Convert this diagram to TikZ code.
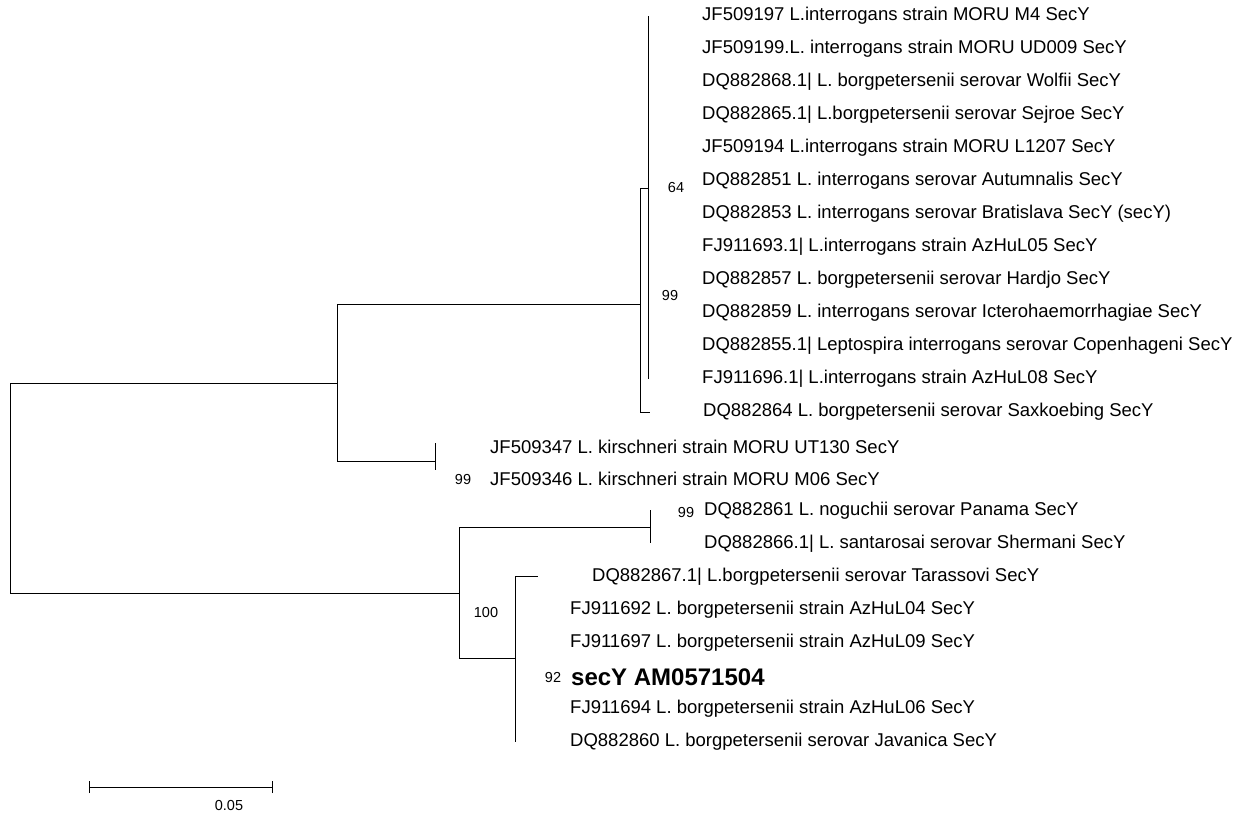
\documentclass[tikz,border=0pt]{standalone}
\usepackage{fontspec}
\setmainfont{Liberation Sans}
\usetikzlibrary{positioning}

\begin{document}
\begin{tikzpicture}[
    x=1pt, y=-1pt,
    branch/.style={line width=0.85pt, black},
    leaf/.style={anchor=west, inner sep=0pt, font=\fontsize{18.5}{22}\selectfont},
    hit/.style={anchor=west, inner sep=0pt, font=\fontsize{24}{28}\selectfont\bfseries},
    boot/.style={inner sep=0pt, font=\fontsize{14.5}{17}\selectfont},
]
\useasboundingbox (0,0) rectangle (1247,814);

% Internal nodes
\coordinate (root) at (10,488);
\coordinate (nInt) at (337,383);
\coordinate (nIntB) at (640,304);
\coordinate (nIntC) at (648,188);
\coordinate (nKir) at (435,461);
\coordinate (nBorg) at (459,593);
\coordinate (nNog) at (650,527);
\coordinate (nBorgB) at (515,658);

% Interrogans group
\foreach \txt [count=\i from 0] in {
    JF509197 L.interrogans strain MORU M4 SecY,
    JF509199.L. interrogans strain MORU UD009 SecY,
    DQ882868.1| L. borgpetersenii serovar Wolfii SecY,
    DQ882865.1| L.borgpetersenii serovar Sejroe SecY,
    JF509194 L.interrogans strain MORU L1207 SecY,
    DQ882851 L. interrogans serovar Autumnalis SecY,
    DQ882853 L. interrogans serovar Bratislava SecY (secY),
    FJ911693.1| L.interrogans strain AzHuL05 SecY,
    DQ882857 L. borgpetersenii serovar Hardjo SecY,
    DQ882859 L. interrogans serovar Icterohaemorrhagiae SecY,
    DQ882855.1| Leptospira interrogans serovar Copenhageni SecY,
    FJ911696.1| L.interrogans strain AzHuL08 SecY} {
    \coordinate (tip\i) at (648,16+33*\i);
    \node[leaf] (lab\i) at (702,16+33*\i) {\txt};
}
\coordinate (tipSax) at (650,412);
\node[leaf] (labSax) at (703,412) {DQ882864 L. borgpetersenii serovar Saxkoebing SecY};

% Kirschneri pair
\coordinate (tipKirA) at (435,443);
\coordinate (tipKirB) at (435,470);
\node[leaf] (labKirA) at (490,447) {JF509347 L. kirschneri strain MORU UT130 SecY};
\node[leaf] (labKirB) at (490,479) {JF509346 L. kirschneri strain MORU M06 SecY};

% Noguchii / santarosai pair
\coordinate (tipNogA) at (650,510);
\coordinate (tipNogB) at (650,543);
\node[leaf] (labNogA) at (704,511) {DQ882861 L. noguchii serovar Panama SecY};
\node[leaf] (labNogB) at (704,544) {DQ882866.1| L. santarosai serovar Shermani SecY};

% Borgpetersenii group
\coordinate (tipTar) at (538,576);
\coordinate (tipJav) at (515,742);
\node[leaf] (labTar) at (592,577) {DQ882867.1| L.borgpetersenii serovar Tarassovi SecY};
\node[leaf] (labAz4) at (570,610) {FJ911692 L. borgpetersenii strain AzHuL04 SecY};
\node[leaf] (labAz9) at (570,643) {FJ911697 L. borgpetersenii strain AzHuL09 SecY};
\node[hit]  (labSec) at (571,677) {secY AM0571504};
\node[leaf] (labAz6) at (570,709) {FJ911694 L. borgpetersenii strain AzHuL06 SecY};
\node[leaf] (labJav) at (570,742) {DQ882860 L. borgpetersenii serovar Javanica SecY};

% Branches
\draw[branch] (root) |- (nInt);
\draw[branch] (root) |- (nBorg);
\draw[branch] (nInt) |- (nIntB);
\draw[branch] (nInt) |- (nKir);
\draw[branch] (nIntB) |- (nIntC);
\draw[branch] (nIntB) |- (tipSax);
\draw[branch] (tip0) -- (tip11);
\draw[branch] (tipKirA) -- (tipKirB);
\draw[branch] (nBorg) |- (nNog);
\draw[branch] (nBorg) |- (nBorgB);
\draw[branch] (tipNogA) -- (tipNogB);
\draw[branch] (nBorgB) |- (tipTar);
\draw[branch] (nBorgB) -- (tipJav);

% Bootstrap values
\node[boot] (bs64) at (676,188) {64};
\node[boot] (bs99a) at (670,296) {99};
\node[boot] (bs99b) at (463,480) {99};
\node[boot] (bs99c) at (686,512) {99};
\node[boot] (bs100) at (486,612) {100};
\node[boot] (bs92) at (553,677) {92};

% Scale bar
\coordinate (barL) at (89,787);
\coordinate (barR) at (272,787);
\draw[branch] (barL) -- (barR);
\draw[branch] ([yshift=-6pt]barL) -- ([yshift=6pt]barL);
\draw[branch] ([yshift=-6pt]barR) -- ([yshift=6pt]barR);
\node[boot] (barLab) at (229,805) {0.05};
\end{tikzpicture}
\end{document}
